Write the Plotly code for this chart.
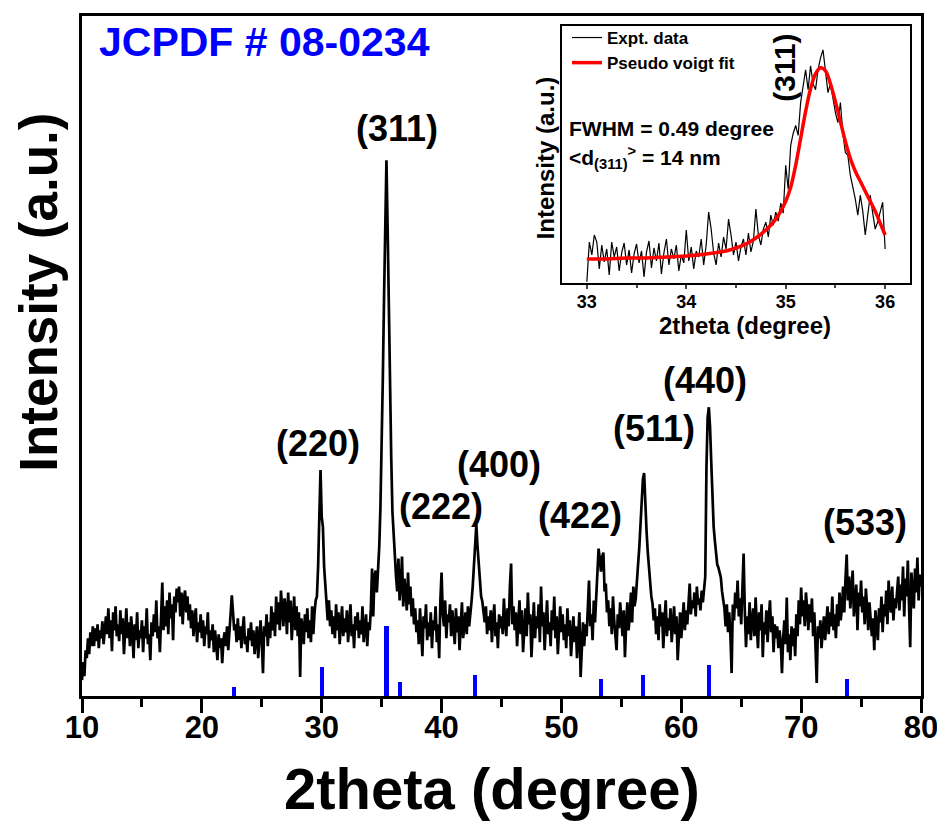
import plotly.graph_objects as go

# ---------------- data ----------------
# main XRD pattern, 2theta from 10.0 to 80.0 in 0.1 deg steps (intensity, a.u.)
two_theta = [round(10 + 0.1 * i, 1) for i in range(701)]
intensity = (
    [16, 34, 20, 46, 38, 58, 42, 64, 50, 70] +      # 10
    [50, 68, 55, 72, 48, 66, 58, 75, 52, 70] +      # 11
    [80, 62, 88, 58, 76, 45, 84, 66, 90, 60] +      # 12
    [72, 55, 86, 62, 78, 42, 70, 88, 58, 74] +      # 13
    [50, 80, 64, 38, 72, 56, 84, 48, 66, 58] +      # 14
    [76, 44, 70, 58, 88, 52, 62, 36, 74, 60] +      # 15
    [82, 64, 96, 58, 70, 44, 80, 114, 66, 90] +     # 16
    [70, 96, 62, 104, 78, 92, 56, 100, 84, 108] +   # 17
    [94, 110, 80, 104, 72, 98, 106, 84, 100, 76] +  # 18
    [92, 68, 86, 60, 78, 88, 54, 74, 64, 82] +      # 19
    [58, 76, 50, 70, 62, 84, 48, 66, 56, 72] +      # 20
    [44, 66, 52, 36, 62, 48, 58, 33, 56, 64] +      # 21
    [50, 70, 46, 62, 76, 101, 84, 66, 72, 54] +     # 22
    [78, 56, 70, 48, 66, 80, 52, 60, 44, 68] +      # 23
    [56, 74, 50, 66, 42, 62, 70, 38, 58, 76] +      # 24
    [54, 23, 70, 60, 82, 50, 74, 58, 90, 66] +      # 25
    [84, 60, 100, 72, 94, 66, 106, 80, 70, 98] +    # 26
    [88, 62, 104, 74, 96, 56, 84, 100, 66, 90] +    # 27
    [60, 84, 19, 78, 70, 52, 82, 64, 88, 58] +      # 28
    [76, 54, 90, 62, 84, 96, 100, 130, 180, 227] +  # 29
    [180, 170, 130, 108, 92, 76, 96, 70, 86, 62] +  # 30
    [80, 58, 92, 66, 84, 52, 74, 90, 60, 78] +      # 31
    [64, 86, 54, 76, 92, 60, 72, 48, 80, 66] +      # 32
    [84, 58, 76, 62, 90, 54, 70, 82, 50, 74] +      # 33
    [66, 88, 128, 80, 120, 126, 104, 122, 150, 190] +   # 34
    [244, 320, 400, 495, 538, 470, 385, 312, 240, 185] +  # 35
    [155, 142, 120, 105, 138, 96, 112, 140, 90, 118] +  # 36
    [104, 86, 124, 92, 110, 80, 98, 72, 88, 64] +   # 37
    [76, 52, 88, 64, 40, 80, 68, 92, 56, 74] +      # 38
    [60, 84, 48, 76, 66, 90, 54, 72, 38, 96] +      # 39
    [124, 82, 70, 96, 58, 82, 74, 92, 60, 86] +     # 40
    [70, 52, 88, 64, 80, 46, 72, 94, 58, 76] +      # 41
    [84, 62, 90, 70, 80, 95, 110, 130, 160, 172] +  # 42
    [150, 130, 115, 100, 95, 84, 74, 90, 62, 80] +  # 43
    [66, 86, 54, 78, 92, 60, 74, 48, 82, 68] +      # 44
    [80, 62, 98, 74, 60, 88, 70, 110, 133, 72] +    # 45
    [90, 66, 84, 50, 78, 96, 62, 86, 44, 74] +      # 46
    [88, 60, 104, 72, 82, 39, 76, 94, 58, 80] +     # 47
    [68, 92, 54, 110, 70, 84, 46, 78, 96, 62] +     # 48
    [74, 50, 86, 66, 100, 58, 80, 42, 72, 90] +     # 49
    [64, 82, 56, 72, 48, 88, 60, 76, 40, 68] +      # 50
    [80, 54, 70, 38, 66, 84, 19, 58, 74, 50] +      # 51
    [72, 60, 88, 116, 70, 82, 56, 96, 74, 100] +    # 52
    [110, 148, 138, 125, 140, 144, 105, 113, 84, 96] +  # 53
    [70, 88, 62, 100, 76, 58, 46, 82, 68, 94] +     # 54
    [78, 60, 86, 39, 72, 94, 66, 80, 104, 74] +     # 55
    [110, 90, 98, 112, 133, 150, 175, 199, 218, 224] +  # 56
    [190, 166, 145, 128, 119, 100, 93, 76, 88, 62] +    # 57
    [80, 56, 92, 70, 84, 48, 76, 96, 60, 78] +      # 58
    [66, 88, 54, 74, 90, 62, 80, 36, 70, 84] +      # 59
    [58, 76, 94, 66, 86, 72, 100, 113, 82, 96] +    # 60
    [88, 104, 80, 110, 92, 98, 86, 106, 94, 110] +  # 61
    [120, 230, 280, 290, 270, 235, 200, 170, 156, 140] +  # 62
    [132, 129, 122, 119, 105, 96, 88, 70, 92, 64] + # 63
    [84, 60, 23, 92, 76, 104, 88, 116, 80, 98] +    # 64
    [72, 108, 143, 86, 49, 80, 62, 94, 56, 76] +    # 65
    [88, 60, 99, 70, 48, 84, 66, 92, 39, 74] +      # 66
    [62, 86, 54, 78, 96, 64, 80, 44, 72, 58] +      # 67
    [70, 48, 66, 54, 23, 58, 76, 52, 99, 44] +      # 68
    [62, 36, 70, 50, 68, 40, 82, 60, 96, 72] +      # 69
    [109, 80, 96, 70, 104, 88, 66, 92, 74, 98] +    # 70
    [60, 84, 52, 13, 70, 58, 76, 48, 66, 80] +      # 71
    [56, 74, 90, 62, 84, 70, 100, 66, 82, 58] +     # 72
    [92, 70, 104, 76, 88, 110, 84, 118, 142, 96] +  # 73
    [120, 88, 106, 126, 80, 98, 112, 66, 104, 90] + # 74
    [116, 84, 100, 72, 108, 90, 66, 94, 80, 60] +   # 75
    [78, 46, 86, 70, 56, 88, 74, 100, 64, 92] +     # 76
    [80, 106, 72, 116, 90, 84, 110, 76, 98, 88] +   # 77
    [104, 120, 86, 112, 96, 130, 80, 118, 100, 136] +   # 78
    [92, 49, 124, 110, 88, 128, 104, 139, 96, 122] +    # 79
    [110]                                            # 80
)

# JCPDF # 08-0234 reference lines
ref_pos = [22.7, 30.0, 35.4, 36.5, 42.8, 53.3, 56.8, 62.3, 73.8]
ref_int = [9, 29, 70, 14, 21, 17, 21, 31, 17]

# Miller index labels (position of label centre)
hkl_text = ["(311)", "(220)", "(222)", "(400)", "(422)", "(511)", "(440)", "(533)"]
hkl_x = [36.28, 29.69, 39.95, 44.79, 51.55, 57.72, 61.98, 75.33]
hkl_y = [570, 254, 190, 233, 181, 269, 317, 174]

# inset: (311) peak, 33.0 - 36.0 deg in 0.025 deg steps
inset_x = [round(33 + 0.025 * i, 3) for i in range(121)]
inset_y = (
    [1, 41, 28, 48] + [41, 14, 38, 21] + [34, 8, 41, 26] + [36, 12, 30, 40] +
    [18, 33, 10, 29] + [39, 20, 32, 6] + [31, 42, 15, 35] + [22, 40, 9, 30] +
    [44, 18, 34, 24] + [38, 12, 28, 20] + [53, 22, 36, 14] + [32, 26, 44, 18] +
    [38, 71, 54, 30] + [18, 40, 26, 46] + [34, 64, 48, 28] + [41, 22, 36, 44] +
    [28, 50, 31, 42] + [74, 48, 38, 54] + [61, 46, 68, 58] + [71, 62, 80, 70] +
    [118, 94, 138, 150] + [158, 148, 181, 200] + [214, 194, 218, 200] +
    [194, 214, 226, 234] + [214, 191, 200, 184] + [171, 161, 181, 150] +
    [131, 128, 108, 96] + [84, 68, 88, 72] + [48, 68, 88, 70] + [54, 61, 72, 81] +
    [34]
)
fit_x = [33.0, 33.2, 33.4, 33.6, 33.8, 34.0, 34.2, 34.4, 34.5, 34.6, 34.7, 34.8,
         34.9, 35.0, 35.05, 35.1, 35.15, 35.2, 35.25, 35.3, 35.35, 35.4, 35.45,
         35.5, 35.55, 35.6, 35.65, 35.7, 35.75, 35.8, 35.85, 35.9, 35.95, 36.0]
fit_y = [24, 24, 25, 25, 26, 27, 29, 32, 35, 39, 45, 53, 64, 82, 96, 118, 145,
         172, 195, 210, 216, 213, 200, 182, 162, 142, 125, 112, 102, 92, 82, 72,
         60, 48]

# ---------------- layout helpers ----------------
OFF = 8                      # default page margin of the html body
W, H = 945 - OFF, 827 - OFF
L, R, T, B = 74, 24, 5, 131
PW, PH = W - L - R, H - T - B
FONT = "Liberation Sans, Arial, sans-serif"


def px_x(p):                 # page pixel -> paper x
    return (p - OFF - L) / PW


def px_y(p):                 # page pixel -> paper y
    return (H - B - (p - OFF)) / PH


def txt(text, x, y, size, color="black", angle=0, xa="center", ya="middle"):
    return dict(x=px_x(x), y=px_y(y), xref="paper", yref="paper", text=text,
                xanchor=xa, yanchor=ya, textangle=angle, showarrow=False,
                font=dict(family=FONT, size=size, color=color, weight="bold"))


fig = go.Figure()

fig.add_trace(go.Scatter(x=two_theta, y=intensity, mode="lines",
                         line=dict(color="black", width=2.7),
                         showlegend=False, xaxis="x", yaxis="y"))
fig.add_trace(go.Bar(x=ref_pos, y=ref_int, width=0.35,
                     marker=dict(color="#0000FF", line=dict(width=0)),
                     showlegend=False, xaxis="x", yaxis="y"))

fig.add_trace(go.Scatter(x=inset_x, y=inset_y, mode="lines", name="Expt. data",
                         line=dict(color="black", width=1.2),
                         xaxis="x2", yaxis="y2"))
fig.add_trace(go.Scatter(x=fit_x, y=fit_y, mode="lines", name="Pseudo voigt fit",
                         line=dict(color="#FF0000", width=3.5, shape="spline"),
                         xaxis="x2", yaxis="y2"))

annotations = []
for t, xx, yy in zip(hkl_text, hkl_x, hkl_y):
    annotations.append(dict(x=xx, y=yy, xref="x", yref="y", text=t, showarrow=False,
                            xanchor="center", yanchor="middle",
                            font=dict(family=FONT, size=36, color="black", weight="bold")))

annotations += [
    txt("JCPDF # 08-0234", 97, 39, 41, color="#0000FF", xa="left"),
    txt("2theta (degree)", 492, 789, 58),
    txt("Intensity (a.u.)", 39, 291, 53, angle=-90),
    # inset texts
    txt("2theta (degree)", 745, 324, 24),
    txt("Intensity (a.u.)", 545, 156, 24, angle=-90),
    txt("FWHM = 0.49 degree", 567, 126, 21, xa="left"),
    txt("&lt;d<sub>(311)</sub><sup>&gt;</sup> = 14 nm", 567, 155, 21, xa="left"),
    txt("(311)", 785, 65, 30, angle=-90),
]

fig.update_layout(
    width=W, height=H,
    margin=dict(l=L, r=R, t=T, b=B, pad=0),
    paper_bgcolor="white", plot_bgcolor="white",
    font=dict(family=FONT, color="black"),
    xaxis=dict(domain=[0, 1], range=[10, 80], tickvals=[10, 20, 30, 40, 50, 60, 70, 80],
               ticks="outside", ticklen=14, tickwidth=3, tickcolor="black",
               minor=dict(dtick=5, ticks="outside", ticklen=8, tickwidth=3, tickcolor="black"),
               showline=True, linewidth=3, linecolor="black", mirror=True,
               showgrid=False, zeroline=False, ticklabelstandoff=-12,
               tickfont=dict(family=FONT, size=31, color="black", weight="bold")),
    yaxis=dict(domain=[0, 1], range=[0, PH], showticklabels=False, ticks="",
               showline=True, linewidth=3, linecolor="black", mirror=True,
               showgrid=False, zeroline=False),
    xaxis2=dict(domain=[px_x(562), px_x(910)], range=[32.75, 36.25], anchor="y2",
                tickvals=[33, 34, 35, 36], ticks="outside", ticklen=4, tickwidth=1.5,
                minor=dict(dtick=0.5, ticks="outside", ticklen=3, tickwidth=1.5),
                showline=True, linewidth=1.5, linecolor="black", mirror=True,
                showgrid=False, zeroline=False, ticklabelstandoff=-2,
                tickfont=dict(family=FONT, size=18, color="black", weight="bold")),
    yaxis2=dict(domain=[px_y(281), px_y(23)], range=[0, 258], anchor="x2",
                showticklabels=False, ticks="", showline=True, linewidth=1.5,
                linecolor="black", mirror=True, showgrid=False, zeroline=False),
    showlegend=True,
    legend=dict(x=px_x(567), y=px_y(17), xanchor="left", yanchor="top",
                bgcolor="rgba(0,0,0,0)", borderwidth=0, tracegroupgap=0,
                font=dict(family=FONT, size=17, color="black", weight="bold")),
    annotations=annotations,
    bargap=0,
)

fig.write_html("out.html")
